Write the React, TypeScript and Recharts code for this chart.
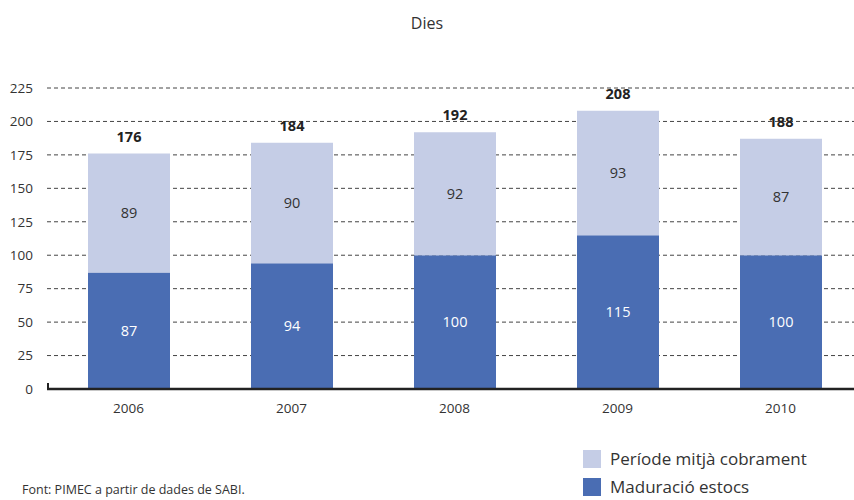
import React from "react";
import { BarChart, Bar, XAxis, YAxis, CartesianGrid, LabelList } from "recharts";

const years = ["2006", "2007", "2008", "2009", "2010"];
const maduracio = [87, 94, 100, 115, 100];
const cobrament = [89, 90, 92, 93, 87];
const totals = [176, 184, 192, 208, 188];
const yTicks = [0, 25, 50, 75, 100, 125, 150, 175, 200, 225];

const DARK = "#4a6db3";
const LIGHT = "#c5cde6";
const FONT = "'Open Sans', 'Noto Sans', sans-serif";

const data = years.map((y, i) => ({
  year: y,
  maduracio: maduracio[i],
  cobrament: cobrament[i],
  total: totals[i],
}));

const legendItems = [
  { label: "Període mitjà cobrament", color: LIGHT },
  { label: "Maduració estocs", color: DARK },
];

export default function App() {
  return (
    <div style={{ position: "absolute", left: 0, top: 0, width: 854, height: 500, overflow: "hidden", background: "#fff" }}>
      <div style={{ position: "absolute", left: 0, top: 12, width: 854, textAlign: "center", fontFamily: FONT, fontSize: 16, color: "#333" }}>
        Dies
      </div>
      <div style={{ position: "absolute", left: 22, top: 481, fontFamily: FONT, fontSize: 12.5, color: "#333" }}>
        Font: PIMEC a partir de dades de SABI.
      </div>
      <div style={{ position: "absolute", left: 583, top: 445, fontFamily: FONT }}>
        {legendItems.map((it) => (
          <div key={it.label} style={{ display: "flex", alignItems: "center", height: 28 }}>
            <div style={{ width: 18, height: 18, background: it.color, marginRight: 9 }} />
            <span style={{ fontSize: 17, color: "#333", lineHeight: "20px" }}>{it.label}</span>
          </div>
        ))}
      </div>
      <div style={{ position: "absolute", left: 47, top: 383, width: 2, height: 6, background: "#222" }} />
      <div style={{ position: "absolute", left: 0, top: 0 }}>
        <BarChart
          width={870}
          height={500}
          data={data}
          margin={{ top: 88, right: 8, bottom: 81, left: 0 }}
          barSize={82}
        >
          <CartesianGrid vertical={false} stroke="#444" strokeDasharray="4 3" />
          <XAxis
            dataKey="year"
            height={30}
            axisLine={{ stroke: "#222", strokeWidth: 2.5 }}
            tickLine={false}
            tick={{ fill: "#333", fontSize: 13.5, fontFamily: FONT }}
            tickMargin={8}
          />
          <YAxis
            width={47}
            domain={[0, 225]}
            ticks={yTicks}
            axisLine={false}
            tickLine={false}
            tick={{ fill: "#333", fontSize: 13.5, fontFamily: FONT }}
            tickMargin={8}
            interval={0}
          />
          <Bar dataKey="maduracio" stackId="a" fill={DARK} isAnimationActive={false}>
            <LabelList dataKey="maduracio" position="center" fill="#fff" fontSize={14.5} fontFamily={FONT} />
          </Bar>
          <Bar dataKey="cobrament" stackId="a" fill={LIGHT} isAnimationActive={false}>
            <LabelList dataKey="cobrament" position="center" fill="#333" fontSize={14.5} fontFamily={FONT} />
            <LabelList dataKey="total" position="top" offset={12} fill="#222" fontSize={14.5} fontWeight="bold" fontFamily={FONT} />
          </Bar>
        </BarChart>
      </div>
    </div>
  );
}
